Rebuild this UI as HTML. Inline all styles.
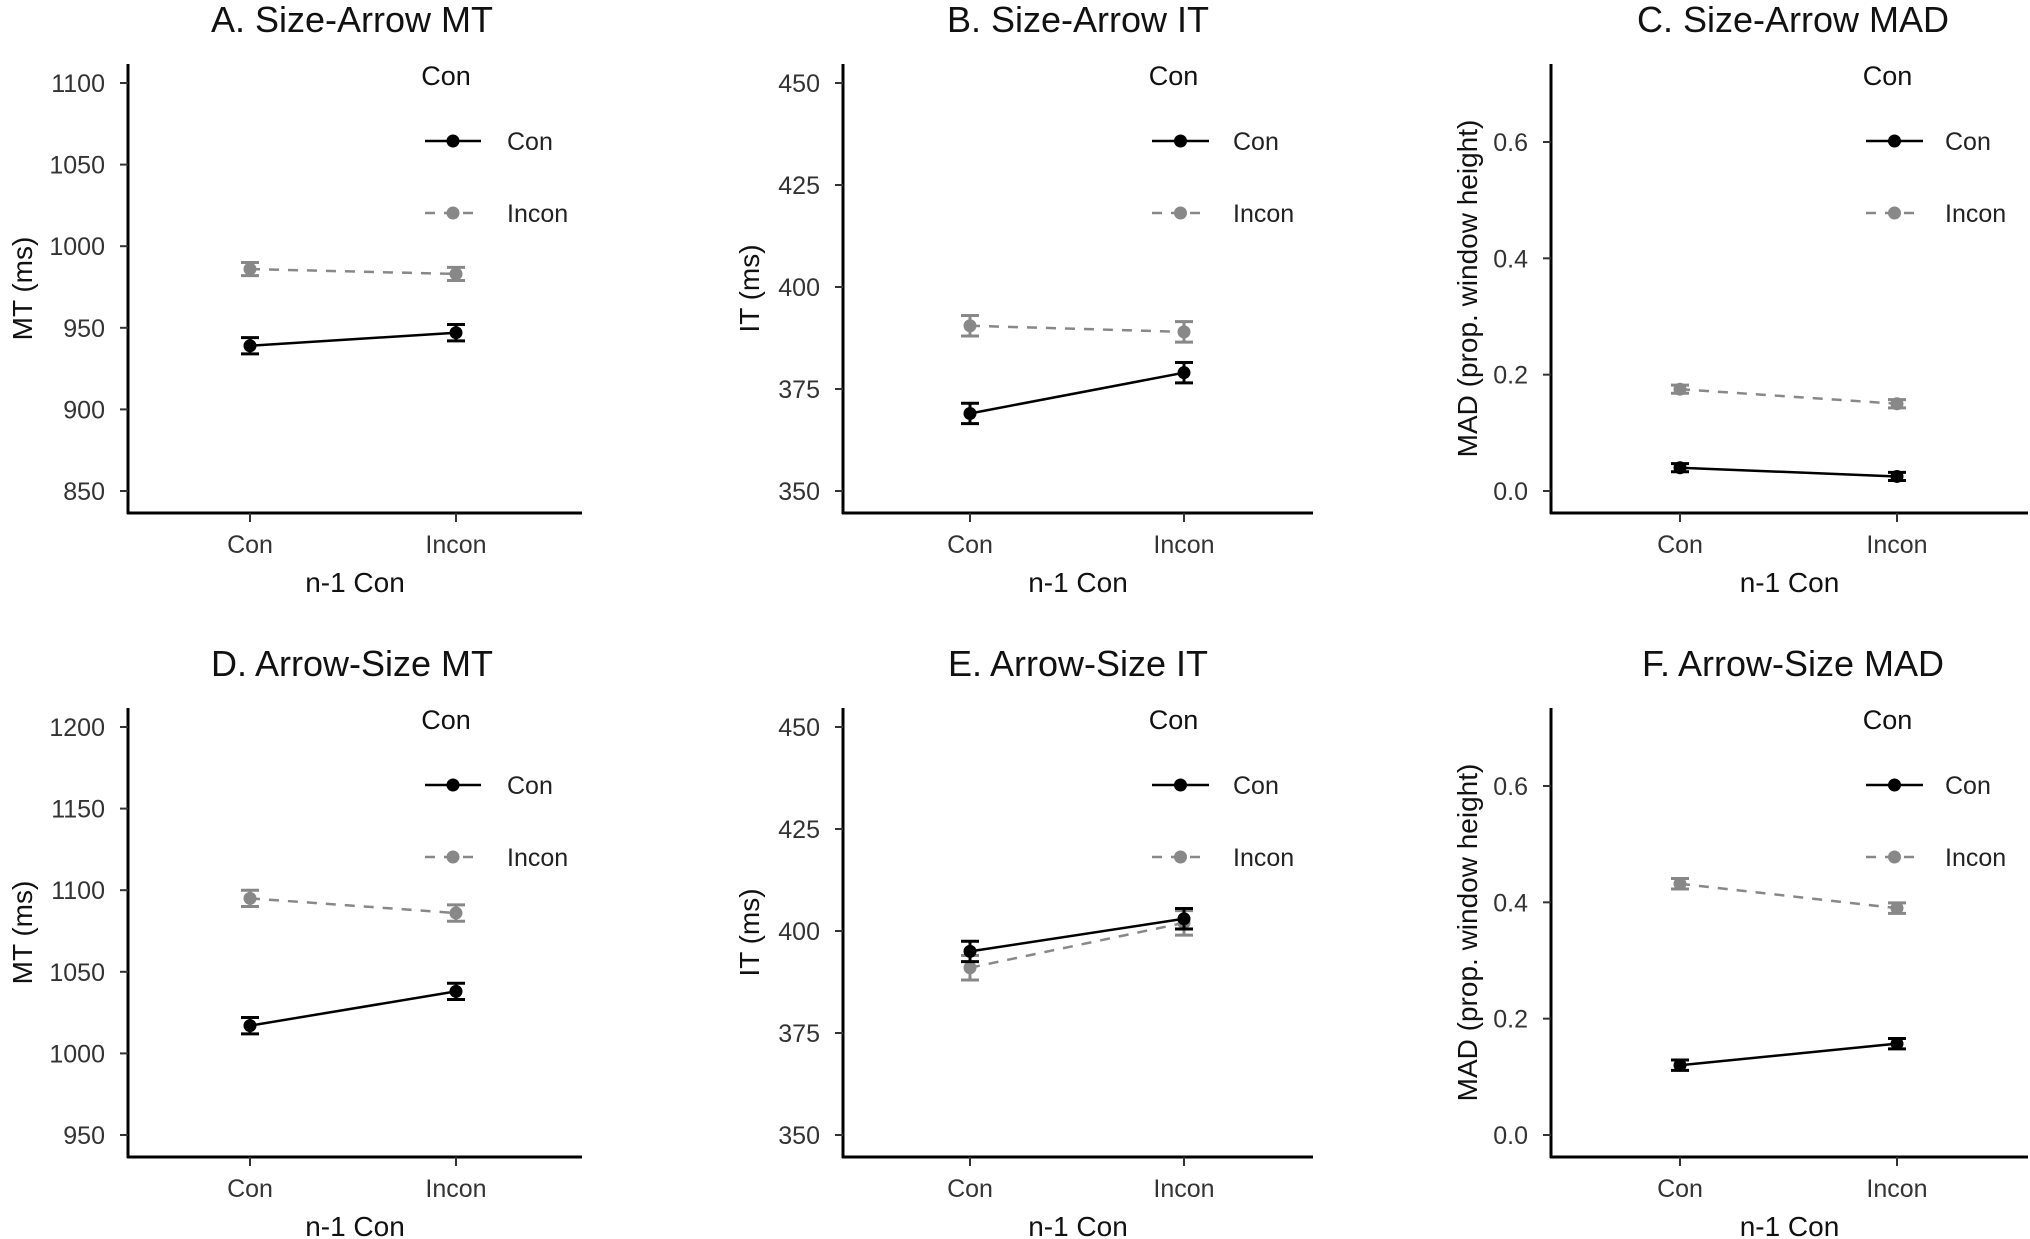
<!DOCTYPE html>
<html><head><meta charset="utf-8">
<style>
html,body{margin:0;padding:0;background:#fff;}
svg{display:block;font-family:"Liberation Sans",Arial,sans-serif;}
</style></head>
<body>
<svg id="fig" width="2030" height="1239" viewBox="0 0 2030 1239"></svg>
<script>
// ---- data ----
const categories = ["Con", "Incon"];
const seriesNames = ["Con", "Incon"];
const panelTitles = ["A. Size-Arrow MT","B. Size-Arrow IT","C. Size-Arrow MAD","D. Arrow-Size MT","E. Arrow-Size IT","F. Arrow-Size MAD"];
const yTitles = ["MT (ms)","IT (ms)","MAD (prop. window height)","MT (ms)","IT (ms)","MAD (prop. window height)"];
const tickValues = [
  [850,900,950,1000,1050,1100],
  [350,375,400,425,450],
  [0.0,0.2,0.4,0.6],
  [950,1000,1050,1100,1150,1200],
  [350,375,400,425,450],
  [0.0,0.2,0.4,0.6]
];
const tickLabels = [
  ["850","900","950","1000","1050","1100"],
  ["350","375","400","425","450"],
  ["0.0","0.2","0.4","0.6"],
  ["950","1000","1050","1100","1150","1200"],
  ["350","375","400","425","450"],
  ["0.0","0.2","0.4","0.6"]
];
const conMeans   = [[939,947],[369,379],[0.040,0.025],[1017,1038],[395,403],[0.120,0.157]];
const conErr     = [[5,5],[2.5,2.5],[0.007,0.007],[5,5],[2.5,2.5],[0.009,0.009]];
const inconMeans = [[986,983],[390.5,389],[0.175,0.150],[1095,1086],[391,402],[0.432,0.390]];
const inconErr   = [[4,4],[2.5,2.5],[0.007,0.007],[5,5],[3,3],[0.009,0.009]];

// ---- layout ----
const NS = "http://www.w3.org/2000/svg";
const svg = document.getElementById("fig");
function mk(tag, attrs, parent){
  const e = document.createElementNS(NS, tag);
  for (const k in attrs) e.setAttribute(k, attrs[k]);
  (parent||svg).appendChild(e);
  return e;
}
const cols = [
  {ax:128, right:582, c0:250, c1:456, title:352, ytx:22, key0:425, key1:481, lab:507},
  {ax:843, right:1313, c0:970, c1:1184, title:1078, ytx:749, key0:1152, key1:1209, lab:1233},
  {ax:1551, right:2028, c0:1680, c1:1897, title:1793, ytx:1467, key0:1866, key1:1923, lab:1945}
];
const GREY = "#888888";

for (let p = 0; p < 6; p++) {
  const c = cols[p % 3];
  const dy = p < 3 ? 0 : 644;
  const top = 64 + dy, bottom = 513 + dy;
  const yLow = 491 + dy, yHigh = (p%3===2) ? 142 + dy : 83 + dy;
  const tv = tickValues[p];
  const tLow = tv[0], tHigh = tv[tv.length-1];
  const yScale = v => yLow - (v - tLow) / (tHigh - tLow) * (yLow - yHigh);
  const xScale = i => i === 0 ? c.c0 : c.c1;

  const g = mk("g", {});
  
  

  const t = mk("text", {x:c.title, y:32+dy, "font-size":36, "text-anchor":"middle", fill:"#111"}, g);
  t.textContent = panelTitles[p];
  
  

  const ya = mk("line", {x1:c.ax, y1:top, x2:c.ax, y2:bottom+1, stroke:"#000", "stroke-width":3}, g);
  
  
  const xa = mk("line", {x1:c.ax-1, y1:bottom, x2:c.right, y2:bottom, stroke:"#000", "stroke-width":3}, g);
  
  

  tv.forEach((v, i) => {
    const y = yScale(v);
    mk("line", {x1:c.ax-8, y1:y, x2:c.ax, y2:y, stroke:"#333", "stroke-width":2}, g);
    const tl = mk("text", {x:c.ax-23, y:y+9, "font-size":25, "text-anchor":"end", fill:"#333"}, g);
    tl.textContent = tickLabels[p][i];
    
    
  });
  categories.forEach((cat, i) => {
    const x = xScale(i);
    mk("line", {x1:x, y1:bottom, x2:x, y2:bottom+9, stroke:"#333", "stroke-width":2}, g);
    const tl = mk("text", {x:x, y:bottom+40, "font-size":25, "text-anchor":"middle", fill:"#333"}, g);
    tl.textContent = cat;
    
    
  });
  const xt = mk("text", {x:(c.ax+c.right)/2, y:bottom+79, "font-size":28, "text-anchor":"middle", fill:"#111"}, g);
  xt.textContent = "n-1 Con";
  
  
  const yt = mk("text", {x:0, y:0, "font-size":28, "text-anchor":"middle", fill:"#111",
    transform:"translate(" + (c.ytx+10) + "," + ((top+bottom)/2) + ") rotate(-90)"}, g);
  yt.textContent = yTitles[p];
  
  

  const series = [
    {m:inconMeans[p], e:inconErr[p], col:GREY, dash:"10,9", name:"incon"},
    {m:conMeans[p], e:conErr[p], col:"#000", dash:null, name:"con"}
  ];
  series.forEach(s => {
    const ln = mk("line", {x1:xScale(0), y1:yScale(s.m[0]), x2:xScale(1), y2:yScale(s.m[1]),
      stroke:s.col, "stroke-width":2.5}, g);
    if (s.dash) ln.setAttribute("stroke-dasharray", s.dash);
    
    
    s.m.forEach((v, i) => {
      const x = xScale(i), yt1 = yScale(v + s.e[i]), yb = yScale(v - s.e[i]);
      const eb = mk("path", {d:"M"+(x-9)+","+yt1+"H"+(x+9)+"M"+x+","+yt1+"V"+yb+"M"+(x-9)+","+yb+"H"+(x+9),
        stroke:s.col, "stroke-width":3, fill:"none"}, g);
      
      
      const pt = mk("circle", {cx:x, cy:yScale(v), r:6.5, fill:s.col}, g);
      
      
    });
  });

  const lg = mk("g", {}, g);
  
  
  const lt = mk("text", {x:(c.key0+c.key1)/2 - 7, y:85+dy, "font-size":27, "text-anchor":"middle", fill:"#111"}, lg);
  lt.textContent = "Con";
  
  
  seriesNames.forEach((n, i) => {
    const y = (i === 0 ? 141 : 213) + dy;
    const col = i === 0 ? "#000" : GREY;
    const kl = mk("line", {x1:c.key0, y1:y, x2:c.key1, y2:y, stroke:col, "stroke-width":2.5}, lg);
    if (i === 1) kl.setAttribute("stroke-dasharray", "10,9");
    mk("circle", {cx:(c.key0+c.key1)/2, cy:y, r:6.5, fill:col}, lg);
    const tx = mk("text", {x:c.lab, y:y+9, "font-size":25, fill:"#222"}, lg);
    tx.textContent = n;
    
    
  });
}
</script>
</body></html>
